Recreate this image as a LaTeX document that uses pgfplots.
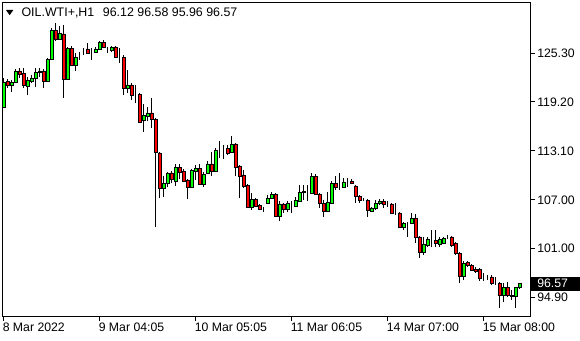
\documentclass[border=0pt]{standalone}
\usepackage{pgfplots}
\pgfplotsset{compat=1.18}
\usepackage{pgfplotstable}
\usepackage{fontspec}
\setmainfont{Liberation Sans}
\definecolor{bull}{RGB}{0,255,0}
\definecolor{bear}{RGB}{255,0,0}

\pgfplotstableread{
i o h l c
0 118.58 122.19 118.45 121.69
1 121.81 122.06 120.94 121.32
2 121.32 121.94 120.44 121.69
3 121.69 123.31 121.56 123.06
4 123.06 123.43 122.19 122.69
5 122.81 123.43 120.94 121.32
6 121.19 122.31 120.07 121.94
7 121.81 122.56 121.56 122.19
8 122.19 123.43 121.07 122.93
9 122.93 123.43 122.31 123.06
10 123.06 123.31 120.94 121.81
11 121.81 124.68 121.69 124.55
12 124.55 128.41 124.43 128.16
13 128.16 129.04 126.79 127.04
14 127.04 128.66 126.92 127.79
15 127.67 128.79 119.70 122.06
16 122.06 126.05 121.94 125.92
17 125.92 126.17 123.68 123.81
18 123.81 125.30 123.06 124.80
19 125.05 125.42 124.43 125.05
20 125.67 125.92 125.05 125.67
21 125.80 126.55 125.18 125.30
22 125.55 125.92 124.43 125.55
23 125.42 126.05 125.30 125.80
24 125.80 126.79 125.67 126.67
25 126.67 126.92 125.92 126.05
26 125.92 126.05 125.30 125.92
27 125.67 126.17 125.42 126.05
28 126.05 126.17 124.68 124.80
29 124.80 125.92 124.06 124.80
30 124.80 125.05 120.07 120.94
31 120.94 123.18 120.32 121.32
32 121.32 121.56 119.45 120.07
33 120.19 121.32 119.07 120.19
34 120.19 120.32 116.58 116.71
35 116.96 118.95 115.46 117.58
36 117.46 118.58 116.83 117.83
37 117.83 119.70 115.96 117.08
38 117.08 117.21 103.63 112.97
39 112.85 112.97 107.24 108.49
40 108.49 109.98 107.37 109.11
41 109.11 110.48 108.61 110.36
42 110.36 110.61 109.11 109.61
43 109.36 111.48 108.74 111.10
44 111.10 111.48 109.61 110.48
45 110.61 110.85 109.24 109.36
46 109.49 109.61 107.12 108.61
47 108.61 110.85 108.49 110.73
48 110.61 111.35 109.49 110.98
49 110.98 111.48 108.86 108.99
50 108.99 110.48 108.61 110.23
51 110.36 111.85 110.23 111.48
52 111.48 112.97 109.98 110.61
53 110.61 113.47 110.48 113.22
54 113.35 114.34 112.22 113.35
55 113.47 113.84 112.10 113.47
56 113.47 113.84 112.60 112.85
57 112.97 114.96 112.85 113.97
58 113.97 114.09 109.98 111.10
59 111.23 111.35 107.24 109.98
60 110.11 110.73 108.49 108.74
61 108.86 108.99 106.00 106.12
62 106.12 107.87 105.75 107.12
63 107.12 107.24 106.12 106.25
64 106.37 106.50 105.75 105.87
65 105.87 106.12 105.50 105.87
66 106.62 107.62 106.50 107.24
67 107.24 107.99 107.12 107.74
68 107.74 107.87 104.88 105.00
69 105.00 106.87 104.38 106.50
70 106.50 106.62 105.38 105.87
71 105.87 106.87 105.50 106.62
72 106.50 106.87 105.38 106.50
73 106.25 107.37 106.12 106.99
74 106.87 108.86 106.75 107.99
75 107.99 108.86 106.99 108.11
76 107.99 108.86 106.87 107.99
77 107.87 110.36 107.74 109.98
78 109.98 110.23 107.62 107.74
79 107.74 107.87 106.00 106.62
80 106.62 106.99 104.88 105.62
81 105.62 107.99 105.50 106.75
82 106.62 109.36 106.62 109.11
83 109.11 109.98 108.24 108.61
84 108.61 110.36 108.24 108.61
85 108.61 109.73 108.49 109.24
86 109.24 109.73 108.61 109.24
87 109.36 109.61 108.99 109.11
88 108.74 108.86 106.62 107.49
89 107.49 107.62 106.62 106.99
90 106.99 107.24 106.87 106.99
91 106.99 107.12 104.88 105.75
92 105.62 106.12 105.50 106.00
93 106.00 106.99 105.75 106.62
94 106.62 107.12 106.37 106.87
95 106.87 107.12 106.00 106.50
96 106.62 106.87 106.12 106.62
97 106.50 106.62 105.25 105.38
98 105.38 106.62 105.13 105.38
99 105.38 105.50 103.51 103.63
100 103.63 104.25 103.26 104.13
101 104.13 104.25 102.39 104.13
102 104.13 105.38 104.01 104.75
103 104.75 105.25 101.64 102.39
104 102.39 102.51 99.77 100.52
105 100.52 102.39 100.15 101.52
106 101.39 102.39 101.14 102.14
107 101.89 103.26 101.14 101.89
108 102.01 103.26 101.14 101.64
109 101.52 102.39 101.14 102.14
110 101.64 102.39 101.52 102.26
111 102.26 102.64 102.14 102.26
112 102.39 102.51 101.14 101.39
113 101.64 101.76 100.15 100.39
114 100.39 100.52 96.66 97.53
115 97.53 99.40 97.03 99.15
116 99.27 99.40 98.65 98.90
117 98.90 99.02 98.15 98.28
118 98.40 98.65 97.90 98.15
119 98.40 98.53 96.91 97.28
120 97.28 97.90 96.91 97.28
121 97.28 97.65 97.03 97.28
122 97.41 97.65 96.41 96.66
123 96.66 97.41 96.41 96.66
124 96.66 96.78 93.55 95.16
125 95.16 96.66 94.29 96.16
126 96.16 96.78 94.92 95.16
127 95.16 95.79 94.54 95.04
128 95.04 96.16 93.55 96.16
129 96.12 96.58 95.96 96.57
}\candles

\begin{document}
\begin{tikzpicture}[x=1pt,y=1pt,font=\fontsize{9.2pt}{11pt}\selectfont]
\useasboundingbox (0,0) rectangle (435,255);
\pgfplotsset{candleax/.style={at={(1.5pt,18pt)}, anchor=south west,
  scale only axis, width=396pt, height=235.125pt,
  xmin=-0.375, xmax=131.625, ymin=92.55, ymax=131.59}}
\begin{axis}[candleax,
  axis line style={black, line width=0.75pt},
  tick style={black, line width=0.75pt},
  tick align=outside, major tick length=3.75pt,
  xtick pos=bottom, ytick pos=right, yticklabel pos=right,
  xtick={0,24,48,72,96,120},
  xticklabels={8 Mar 2022,9 Mar 04:05,10 Mar 05:05,11 Mar 06:05,14 Mar 07:00,15 Mar 08:00},
  ytick={94.90,101.00,107.00,113.10,119.20,125.30},
  yticklabels={94.90,101.00,107.00,113.10,119.20,125.30},
  tick label style={font=\fontsize{9.2pt}{11pt}\selectfont, text=black},
  xticklabel style={anchor=base west, inner sep=0pt, yshift=-8pt, xshift=-0.75pt},
  yticklabel style={anchor=west, inner sep=0pt, xshift=1.5pt},
  minor tick num=0]
\addplot[draw=none, mark=none,
  error bars/.cd, y dir=plus, y explicit, error mark=none,
  error bar style={draw=black, line width=0.75pt}]
  table[x=i, y=l, y error expr=\thisrow{h}-\thisrow{l}] {\candles};
\end{axis}
\begin{axis}[candleax, hide axis, ybar stacked, bar width=0.66]
\addplot[draw=none, fill=none] table[x=i, y expr={min(\thisrow{o},\thisrow{c})}] {\candles};
\addplot[draw=black, fill=bull, line width=0.45pt] table[x=i, y expr={max(\thisrow{c}-\thisrow{o},0)}] {\candles};
\addplot[draw=black, fill=bear, line width=0.45pt] table[x=i, y expr={max(\thisrow{o}-\thisrow{c},0)}] {\candles};
\end{axis}
% header
\fill[black] (4.5,247.5) -- (10,247.5) -- (7.25,243.6) -- cycle;
\node[anchor=base west, inner sep=0pt, font=\fontsize{9.3pt}{11pt}\selectfont] at (16,242.5) {OIL.WTI+,H1};
\node[anchor=base west, inner sep=0pt, font=\fontsize{9.3pt}{11pt}\selectfont] at (77,242.5) {96.12 96.58 95.96 96.57};
% current price box
\fill[black] (397.5,37) rectangle (435,47.5);
\node[anchor=west, inner sep=0pt, text=white] at (402.75,42.2) {96.57};
\end{tikzpicture}
\end{document}
